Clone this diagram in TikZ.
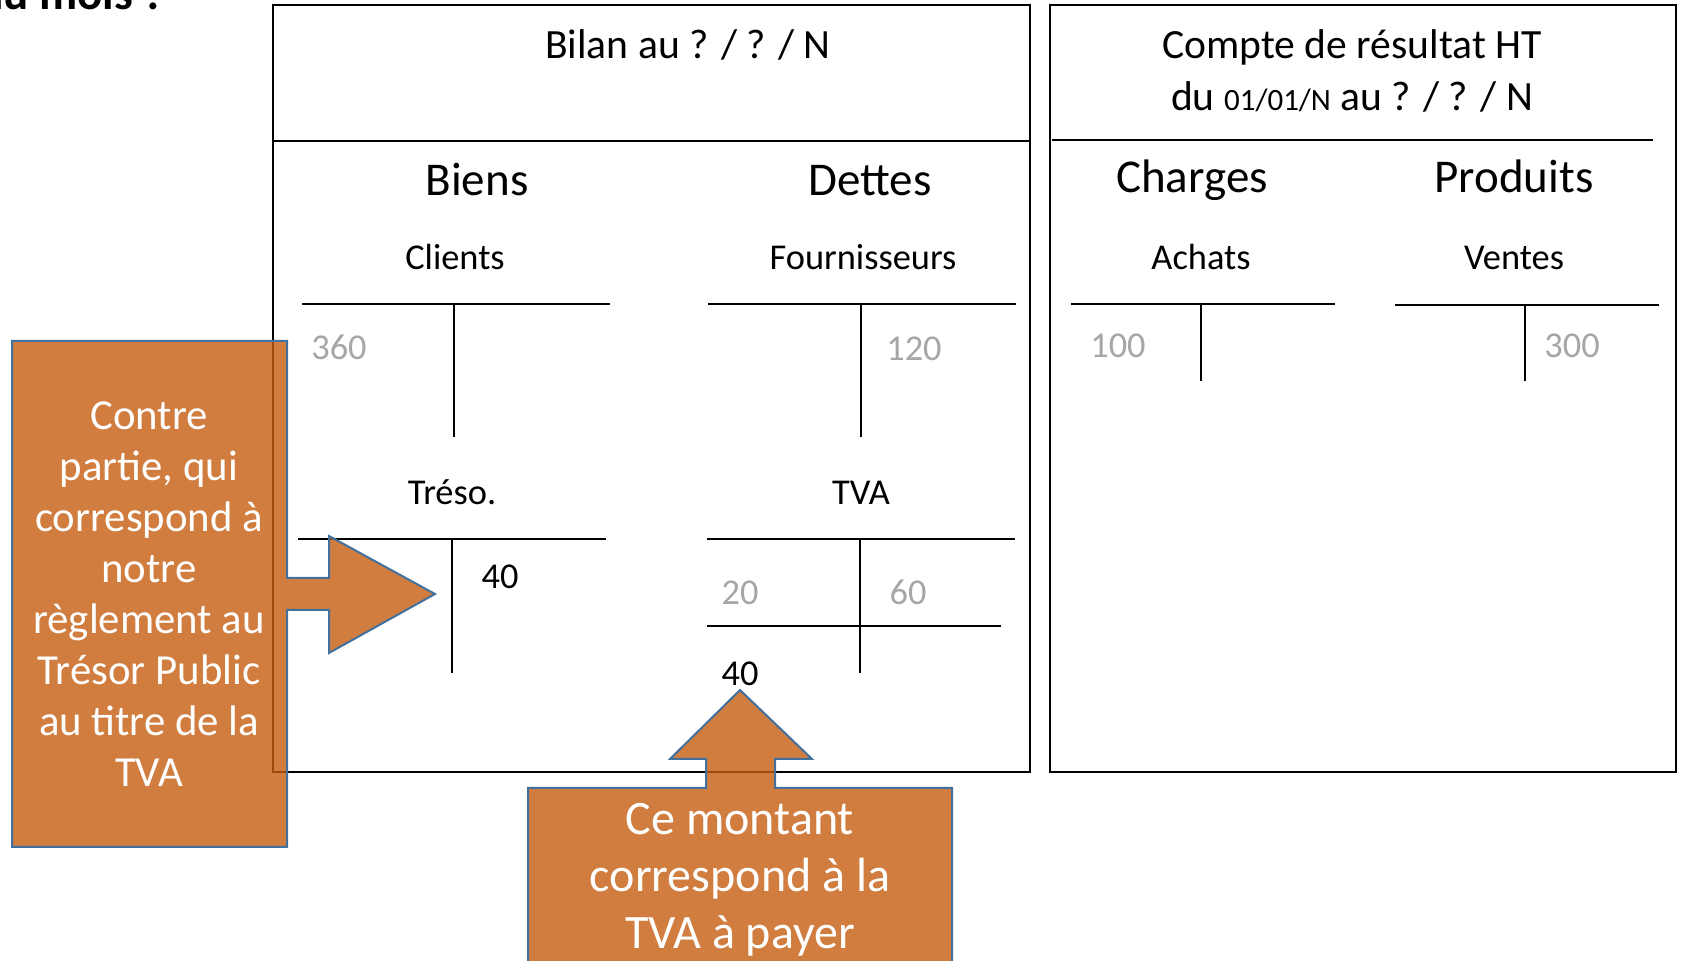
\documentclass[tikz,border=0pt]{standalone}
\usepackage{fontspec}
\setmainfont{Carlito}
\definecolor{callfill}{RGB}{197,93,16}
\definecolor{callline}{RGB}{65,113,156}
\definecolor{amount}{RGB}{166,166,166}

\begin{document}
\begin{tikzpicture}[x=0.5pt,y=-0.5pt,
    frame/.style={draw=black,line width=1.2pt},
    rule/.style={draw=black,line width=0.7pt},
    title/.style={inner sep=0pt,anchor=base,font=\fontsize{20.8}{25}\selectfont},
    side/.style={inner sep=0pt,anchor=base,font=\fontsize{23.5}{28}\selectfont},
    account/.style={inner sep=0pt,anchor=base,font=\fontsize{18.2}{22}\selectfont},
    amt/.style={account,text=amount},
    callout/.style={fill=callfill,fill opacity=0.8,draw=callline,line width=1pt,line join=miter},
    calltext/.style={inner sep=0pt,anchor=base,text=white,align=center}]
    \useasboundingbox (0,0) rectangle (1683,961);
    \clip (0,0) rectangle (1683,961);
    % question cut at the top
    \node [inner sep=0pt,anchor=base east,font=\fontsize{23.5}{28}\selectfont\bfseries] (question) at (166,10) {au mois ?};
    % bilan
    \draw [frame] (273,5) rectangle (1030,772);
    \draw [rule] (273,141) -- (1030,141);
    \node [title] (bilan) at (688,59) {Bilan au ? / ? / N};
    \node [side] (biens) at (477,196) {Biens};
    \node [side] (dettes) at (870,196) {Dettes};
    \node [account] (clients) at (455,270) {Clients};
    \draw [rule] (302,304) -- (610,304);
    \draw [rule] (454,304) -- (454,437);
    \node [amt] (clients-d) at (339,360) {360};
    \node [account] (fournisseurs) at (863,270) {Fournisseurs};
    \draw [rule] (708,304) -- (1016,304);
    \draw [rule] (861,304) -- (861,437);
    \node [amt] (fournisseurs-c) at (914,361) {120};
    \node [account] (treso) at (452,505) {Tréso.};
    \draw [rule] (298,539) -- (606,539);
    \draw [rule] (452,539) -- (452,673);
    \node [account] (treso-c) at (500,589) {40};
    \node [account] (tva) at (861,505) {TVA};
    \draw [rule] (707,539) -- (1015,539);
    \draw [rule] (860,539) -- (860,673);
    \draw [rule] (707,626) -- (1001,626);
    \node [amt] (tva-d) at (740,605) {20};
    \node [amt] (tva-c) at (908,605) {60};
    \node [account] (tva-solde) at (740,686) {40};
    % compte de resultat
    \draw [frame] (1050,5) rectangle (1676,772);
    \draw [rule] (1052,140) -- (1653,140);
    \node [title] (resultat) at (1352,59) {Compte de résultat HT};
    \node [title] (periode) at (1352,111) {du {\fontsize{15.5}{18}\selectfont 01/01/N} au ? / ? / N};
    \node [side] (charges) at (1192,193) {Charges};
    \node [side] (produits) at (1514,193) {Produits};
    \node [account] (achats) at (1201,270) {Achats};
    \draw [rule] (1071,304) -- (1335,304);
    \draw [rule] (1201,304) -- (1201,381);
    \node [amt] (achats-d) at (1118,358) {100};
    \node [account] (ventes) at (1514,270) {Ventes};
    \draw [rule] (1395,305) -- (1659,305);
    \draw [rule] (1525,305) -- (1525,381);
    \node [amt] (ventes-c) at (1572,358) {300};
    % callouts
    \draw [callout] (12,341) -- (287,341) -- (287,578) -- (329,578) -- (329,536) -- (435,594)
        -- (329,653) -- (329,610) -- (287,610) -- (287,847) -- (12,847) -- cycle;
    \node [calltext,font=\fontsize{21.4}{25.5}\selectfont] (contrepartie) at (149,787)
        {Contre\\partie, qui\\correspond à\\notre\\règlement au\\Trésor Public\\au titre de la\\TVA};
    \draw [callout] (528,1000) -- (528,788) -- (706,788) -- (706,759) -- (670,759) -- (740,690)
        -- (812,759) -- (775,759) -- (775,788) -- (952,788) -- (952,1000) -- cycle;
    \node [calltext,font=\fontsize{24}{28.5}\selectfont] (montant) at (740,949)
        {Ce montant\\correspond à la\\TVA à payer};
\end{tikzpicture}
\end{document}
